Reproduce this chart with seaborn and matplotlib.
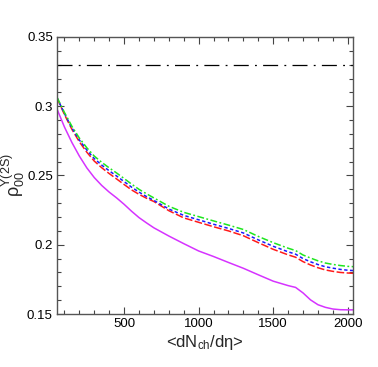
import numpy as np
import pandas as pd
import seaborn as sns
import matplotlib
matplotlib.use("Agg")
import matplotlib.pyplot as plt
from matplotlib.ticker import MultipleLocator, FuncFormatter

# values
dnch = [50, 100, 150, 200, 250, 300, 350, 400, 450, 500, 550, 600, 650, 700,
        800, 900, 1000, 1100, 1200, 1300, 1400, 1500, 1600, 1650, 1700, 1750,
        1800, 1850, 1900, 1950, 2000, 2035]

rho_magenta = [0.298, 0.285, 0.2738, 0.264, 0.2555, 0.2485, 0.2428, 0.2380,
               0.2338, 0.2292, 0.2242, 0.2196, 0.2158, 0.2122, 0.2063, 0.2008,
               0.1955, 0.1915, 0.1872, 0.1830, 0.1783, 0.1737, 0.1705, 0.1692,
               0.1652, 0.1602, 0.1567, 0.1548, 0.1536, 0.1531, 0.1530, 0.1530]
rho_green = [0.3065, 0.2955, 0.2855, 0.2770, 0.2700, 0.2640, 0.2595, 0.2555,
             0.2518, 0.2478, 0.2438, 0.2400, 0.2368, 0.2338, 0.2278, 0.2234,
             0.2203, 0.2172, 0.2142, 0.2110, 0.2060, 0.2015, 0.1975, 0.1958,
             0.1926, 0.1904, 0.1884, 0.1868, 0.1858, 0.1850, 0.1844, 0.1842]
rho_blue = [0.3062, 0.2947, 0.2843, 0.2756, 0.2684, 0.2622, 0.2575, 0.2534,
            0.2496, 0.2456, 0.2416, 0.2380, 0.2348, 0.2320, 0.2258, 0.2212,
            0.2180, 0.2148, 0.2118, 0.2085, 0.2035, 0.1989, 0.1949, 0.1932,
            0.1900, 0.1877, 0.1857, 0.1841, 0.1831, 0.1822, 0.1816, 0.1814]
rho_red = [0.3060, 0.2940, 0.2833, 0.2743, 0.2668, 0.2604, 0.2556, 0.2514,
           0.2475, 0.2435, 0.2396, 0.2364, 0.2336, 0.2312, 0.2246, 0.2194,
           0.2162, 0.2130, 0.2100, 0.2065, 0.2015, 0.1967, 0.1927, 0.1910,
           0.1878, 0.1854, 0.1834, 0.1818, 0.1808, 0.1800, 0.1796, 0.1794]
rho_ref = 0.33

series = {
    "magenta": rho_magenta,
    "red": rho_red,
    "blue": rho_blue,
    "green": rho_green,
}

palette = {"magenta": "#d633ff", "red": "#ff1a1a", "blue": "#1a1aff", "green": "#1ee61e"}
dashes = {"magenta": "", "red": (5, 1.6), "blue": (2.2, 1.6), "green": (4.5, 1.6, 1.2, 1.6)}


def main():
    sns.set_style("ticks")
    plt.rcParams["font.family"] = ["Liberation Sans", "DejaVu Sans"]
    plt.rcParams["mathtext.fontset"] = "custom"
    plt.rcParams["mathtext.rm"] = "Liberation Sans"
    plt.rcParams["mathtext.it"] = "Liberation Sans:italic"
    plt.rcParams["mathtext.default"] = "rm"

    df = pd.concat([
        pd.DataFrame({"x": dnch, "rho": vals, "model": name})
        for name, vals in series.items()
    ])

    fig = plt.figure(figsize=(3.78, 3.67), dpi=100)
    ax = fig.add_axes([0.1508, 0.1444, 0.7831, 0.7548])

    sns.lineplot(data=df, x="x", y="rho", hue="model", style="model",
                 palette=palette, dashes=dashes, linewidth=1.1,
                 legend=False, ax=ax)

    ax.axhline(rho_ref, color="black", linewidth=0.9, dashes=(12, 5, 1.5, 5))

    ax.set_xlim(50, 2035)
    ax.set_ylim(0.15, 0.35)

    ax.xaxis.set_major_locator(MultipleLocator(500))
    ax.xaxis.set_minor_locator(MultipleLocator(100))
    ax.yaxis.set_major_locator(MultipleLocator(0.05))
    ax.yaxis.set_minor_locator(MultipleLocator(0.01))
    ax.yaxis.set_major_formatter(FuncFormatter(lambda v, p: "%g" % round(v, 3)))

    ax.tick_params(which="both", direction="in", top=True, right=True,
                   colors="#444444", labelcolor="black", labelsize=9.5, pad=3)
    ax.tick_params(which="major", length=5, width=0.8)
    ax.tick_params(which="minor", length=2.6, width=0.8)
    for s in ax.spines.values():
        s.set_color("#555555")
        s.set_linewidth(1.0)

    ax.set_xlabel(r"<dN$_{\mathrm{ch}}$/d$\eta$>", fontsize=12, labelpad=2)
    ax.set_ylabel(r"$\rho_{00}^{\Upsilon(2S)}$", fontsize=13, labelpad=0)

    fig.savefig("out.png", dpi=100)


if __name__ == "__main__":
    main()
